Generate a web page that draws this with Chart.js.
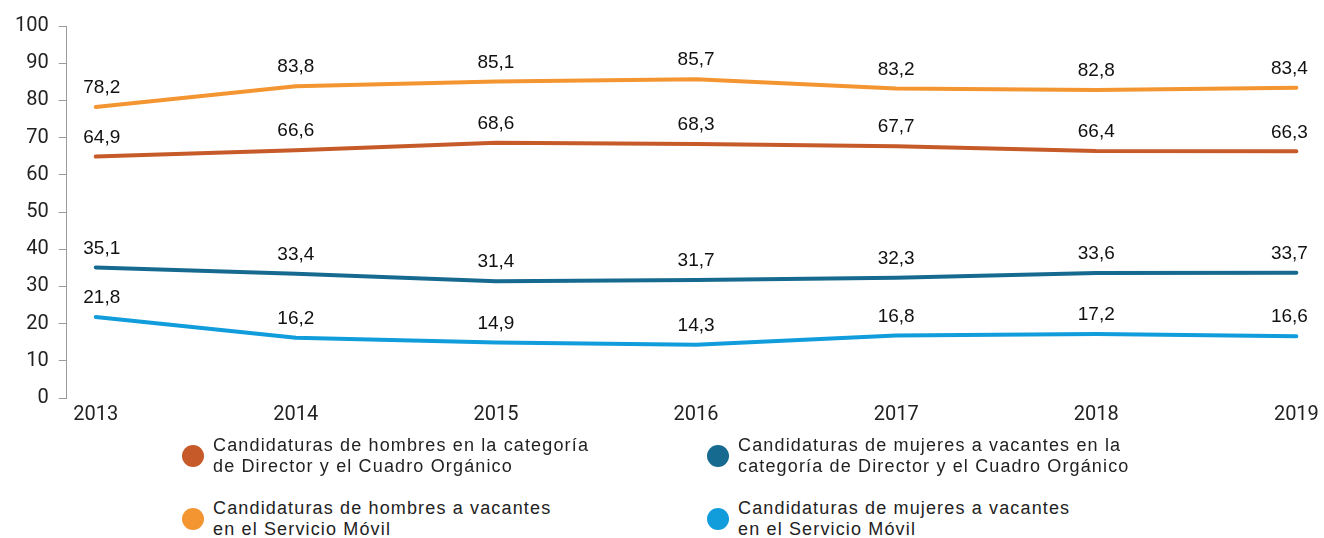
<!DOCTYPE html>
<html lang="es">
<head>
  <meta charset="UTF-8">
  <title>Candidaturas por sexo</title>
  <script src="https://cdn.jsdelivr.net/npm/chart.js"></script>
  <style>
    * {
      box-sizing: border-box;
    }

    body {
      margin: 0;
      background: #fff;
      font-family: "Liberation Sans", Arial, sans-serif;
    }

    .wrap {
      position: relative;
      width: 1324px;
      height: 538px;
    }

    canvas {
      position: absolute;
      left: 0;
      top: 0;
    }

    .legend {
      position: absolute;
      left: 0;
      top: 0;
      font-size: 18px;
      letter-spacing: 1.15px;
      line-height: 21px;
      color: #222;
    }

    .legend .item {
      position: absolute;
      display: flex;
      align-items: center;
      white-space: nowrap;
    }

    .legend .dot {
      width: 22px;
      height: 22px;
      border-radius: 50%;
      margin-right: 9px;
      flex: none;
    }
  </style>
</head>
<body>
  <div class="wrap">
    <canvas id="chart" width="1324" height="440"></canvas>
    <div class="legend" id="legend"></div>
  </div>

  <script>
    const years = [2013, 2014, 2015, 2016, 2017, 2018, 2019];
    const yTicks = [0, 10, 20, 30, 40, 50, 60, 70, 80, 90, 100];

    const hombresDirector = [64.9, 66.6, 68.6, 68.3, 67.7, 66.4, 66.3];
    const hombresMovil = [78.2, 83.8, 85.1, 85.7, 83.2, 82.8, 83.4];
    const mujeresDirector = [35.1, 33.4, 31.4, 31.7, 32.3, 33.6, 33.7];
    const mujeresMovil = [21.8, 16.2, 14.9, 14.3, 16.8, 17.2, 16.6];

    const seriesNames = [
      ['Candidaturas de hombres en la categoría', 'de Director y el Cuadro Orgánico'],
      ['Candidaturas de mujeres a vacantes en la', 'categoría de Director y el Cuadro Orgánico'],
      ['Candidaturas de hombres a vacantes', 'en el Servicio Móvil'],
      ['Candidaturas de mujeres a vacantes', 'en el Servicio Móvil']
    ];
    const seriesColors = ['#c65a29', '#176a8f', '#f39531', '#119ddb'];
    const seriesData = [hombresDirector, mujeresDirector, hombresMovil, mujeresMovil];

    // etiquetas de valor encima de cada punto
    const valueLabels = {
      id: 'valueLabels',
      afterDatasetsDraw(chart) {
        const ctx = chart.ctx;
        ctx.save();
        ctx.font = '19px "Liberation Sans", Arial, sans-serif';
        ctx.fillStyle = '#111';
        ctx.textAlign = 'center';
        ctx.textBaseline = 'middle';
        chart.data.datasets.forEach((ds, i) => {
          chart.getDatasetMeta(i).data.forEach((pt, j) => {
            let x = pt.x;
            if (j === 0) x += 6;
            if (j === ds.data.length - 1) x -= 7;
            ctx.fillText(ds.data[j].y.toFixed(1).replace('.', ','), x, pt.y - 19);
          });
        });
        ctx.restore();
      }
    };

    const ctx = document.getElementById('chart').getContext('2d');

    new Chart(ctx, {
      type: 'line',
      data: {
        datasets: seriesData.map((vals, i) => ({
          label: seriesNames[i].join(' '),
          data: vals.map((v, j) => ({ x: years[j], y: v })),
          borderColor: seriesColors[i],
          backgroundColor: seriesColors[i],
          borderWidth: 4,
          borderCapStyle: 'round',
          borderJoinStyle: 'round',
          pointRadius: 0,
          tension: 0
        }))
      },
      options: {
        responsive: false,
        animation: false,
        layout: {
          padding: { left: 5, right: 12, top: 26, bottom: 8 }
        },
        plugins: {
          legend: { display: false },
          tooltip: { enabled: false }
        },
        scales: {
          x: {
            type: 'linear',
            min: 2012.855,
            max: 2019.075,
            afterBuildTicks: axis => {
              axis.ticks = years.map(v => ({ value: v }));
            },
            grid: { display: false, drawTicks: false },
            border: { display: false },
            ticks: {
              color: '#222',
              padding: 5,
              maxRotation: 0,
              autoSkip: false,
              font: { family: 'Roboto', size: 20 },
              callback: v => String(v)
            }
          },
          y: {
            min: 0,
            max: 100,
            afterBuildTicks: axis => {
              axis.ticks = yTicks.map(v => ({ value: v }));
            },
            grid: {
              drawOnChartArea: false,
              tickLength: 8,
              color: '#9a9a9a'
            },
            border: { color: '#9a9a9a', width: 1 },
            ticks: {
              color: '#222',
              padding: 10,
              font: { family: 'Roboto', size: 20 }
            }
          }
        }
      },
      plugins: [valueLabels]
    });

    // leyenda en dos columnas
    const legendPos = [[182, 435], [707, 435], [182, 498], [707, 498]];
    const legend = document.getElementById('legend');
    seriesNames.forEach((lines, i) => {
      const item = document.createElement('div');
      item.className = 'item';
      item.style.left = legendPos[i][0] + 'px';
      item.style.top = legendPos[i][1] + 'px';
      item.innerHTML = '<span class="dot" style="background:' + seriesColors[i] + '"></span>' +
        '<span>' + lines.join('<br>') + '</span>';
      legend.appendChild(item);
    });
  </script>
</body>
</html>
